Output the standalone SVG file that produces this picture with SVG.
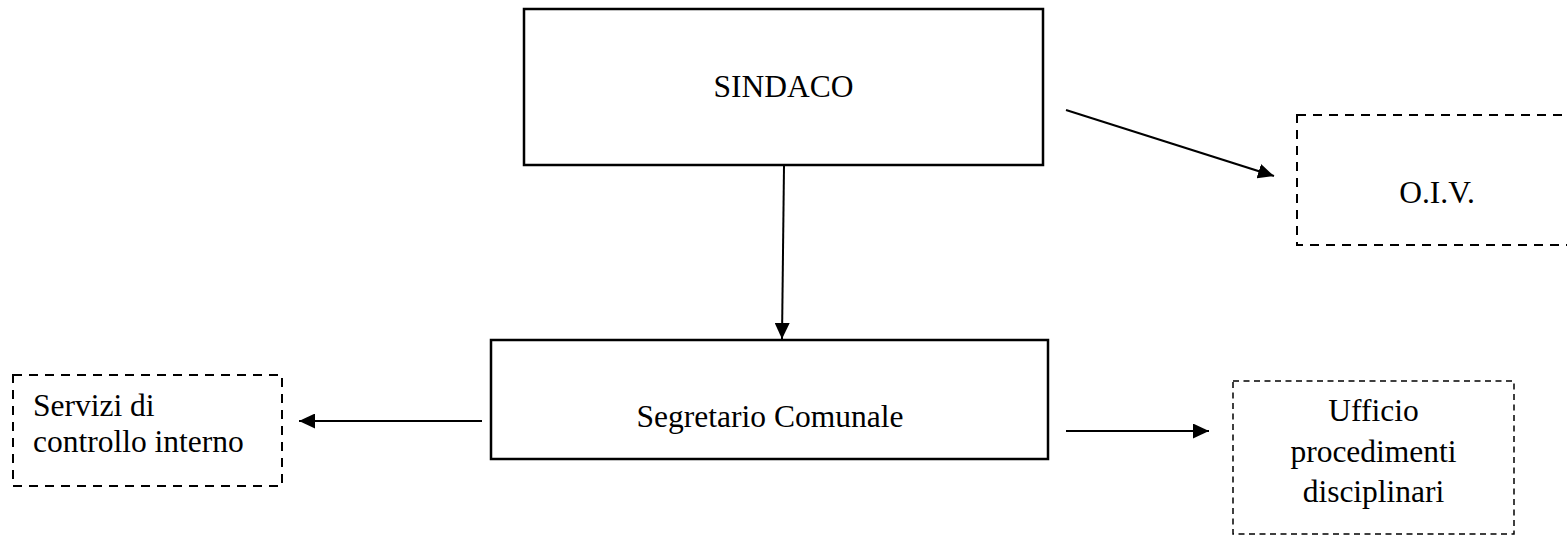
<svg xmlns="http://www.w3.org/2000/svg" width="1567" height="535" viewBox="0 0 1567 535">
<style>
  .t { font-family: "Liberation Serif", "Times New Roman", serif; font-size: 31.5px; fill: #000; }
  .solid { fill: #fff; stroke: #000; stroke-width: 2.5; }
  .dash { fill: #fff; stroke: #000; stroke-width: 2; stroke-dasharray: 9 7; }
  .dashfine { fill: #fff; stroke: #000; stroke-width: 1.5; stroke-dasharray: 6 4.5; }
  .conn { stroke: #000; stroke-width: 2; fill: none; marker-end: url(#arr); }
</style>
<defs>
  <marker id="arr" markerUnits="userSpaceOnUse" markerWidth="16" markerHeight="15" refX="16" refY="7.5" orient="auto">
    <path d="M0,0 L16,7.5 L0,15 Z" fill="#000"/>
  </marker>
</defs>
<rect width="1567" height="535" fill="#fff"/>
<g id="connectors">
  <line class="conn" x1="784" y1="166" x2="782" y2="339"/>
  <line class="conn" x1="1066" y1="110" x2="1274" y2="176"/>
  <line class="conn" x1="482" y1="421" x2="299" y2="421"/>
  <line class="conn" x1="1066" y1="431" x2="1209" y2="431"/>
</g>
<g id="sindaco">
  <rect class="solid" x="524" y="9" width="519" height="156"/>
  <text class="t" x="783.5" y="97" text-anchor="middle">SINDACO</text>
</g>
<g id="oiv">
  <rect class="dash" x="1297" y="115" width="290" height="130"/>
  <text class="t" x="1437" y="203" text-anchor="middle">O.I.V.</text>
</g>
<g id="segretario">
  <rect class="solid" x="491" y="340" width="557" height="119" stroke-width="2"/>
  <text class="t" x="770" y="427" text-anchor="middle">Segretario Comunale</text>
</g>
<g id="servizi">
  <rect class="dash" x="13" y="375" width="269" height="111"/>
  <text class="t" x="33" y="416">Servizi di</text>
  <text class="t" x="33" y="452">controllo interno</text>
</g>
<g id="ufficio">
  <rect class="dashfine" x="1233" y="381" width="281" height="153"/>
  <text class="t" x="1373.5" y="421" text-anchor="middle">Ufficio</text>
  <text class="t" x="1373.5" y="462" text-anchor="middle">procedimenti</text>
  <text class="t" x="1373.5" y="502" text-anchor="middle">disciplinari</text>
</g>
</svg>
